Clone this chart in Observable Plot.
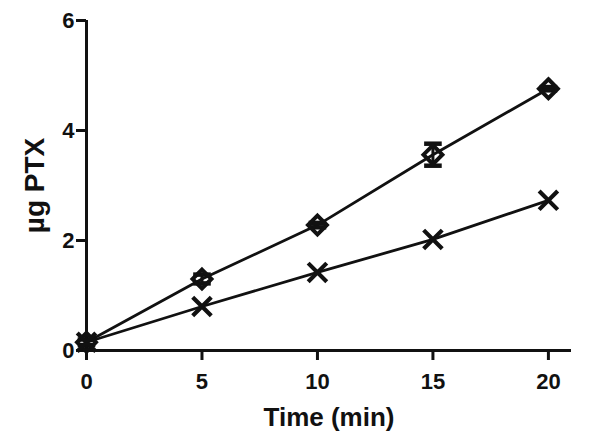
<!DOCTYPE html>
<html>
<head>
<meta charset="utf-8">
<script src="https://cdn.jsdelivr.net/npm/d3@7"></script>
<script src="https://cdn.jsdelivr.net/npm/@observablehq/plot@0.6"></script>
<style>
  html, body { margin: 0; padding: 0; background: #fff; }
  #chart svg { display: block; }
</style>
</head>
<body>
<div id="chart"></div>
<script>
// ---- data ----
const times = [0, 5, 10, 15, 20];
const diamondMean = [0.15, 1.30, 2.28, 3.56, 4.76];
const diamondErr = [0.05, 0.08, 0.04, 0.20, 0.03];
const crossMean = [0.15, 0.80, 1.42, 2.02, 2.73];
const crossErr = [0.05, 0.03, 0.03, 0.03, 0.03];
const xTicks = [0, 5, 10, 15, 20];
const yTicks = [0, 2, 4, 6];

const diamondRows = times.map((t, i) => ({t, v: diamondMean[i], e: diamondErr[i]}));
const crossRows = times.map((t, i) => ({t, v: crossMean[i], e: crossErr[i]}));

// horizontal cap symbol for error bars
const capSymbol = {
  draw(context, size) {
    const r = Math.sqrt(size / Math.PI) * 1.1;
    context.moveTo(-r, 0);
    context.lineTo(r, 0);
  }
};

const font = "'Liberation Sans', Arial, Helvetica, sans-serif";

const chart = Plot.plot({
  width: 602,
  height: 442,
  marginLeft: 86,
  marginRight: 31,
  marginTop: 20,
  marginBottom: 92,
  style: {fontFamily: font, fontWeight: "bold", background: "#fff", color: "#111"},
  x: {domain: [0, 21], axis: null},
  y: {domain: [0, 6], axis: null},
  marks: [
    // axis lines
    Plot.ruleY([0], {x1: 0, x2: 21, stroke: "#111", strokeWidth: 3}),
    Plot.ruleX([0], {y1: 0, y2: 6, stroke: "#111", strokeWidth: 3}),
    // ticks
    Plot.axisX({ticks: xTicks, tickSize: 10, strokeWidth: 3, label: null, tickFormat: () => ""}),
    Plot.axisY({ticks: yTicks, tickSize: 10, strokeWidth: 3, label: null, tickFormat: () => ""}),
    // tick labels
    Plot.text(xTicks, {x: d => d, frameAnchor: "bottom", lineAnchor: "top", dy: 23, fontSize: 22, fontWeight: "bold", fill: "#111", text: d => String(d)}),
    Plot.text(yTicks, {y: d => d, frameAnchor: "left", textAnchor: "end", dx: -12, fontSize: 22, fontWeight: "bold", fill: "#111", text: d => String(d)}),
    // axis titles
    Plot.text(["Time (min)"], {frameAnchor: "bottom", dy: 75, fontSize: 26, fontWeight: "bold", lineAnchor: "bottom", fill: "#111"}),
    Plot.text(["µg PTX"], {frameAnchor: "left", textAnchor: "middle", dx: -51, rotate: -90, fontSize: 28, fontWeight: "bold", fill: "#111"}),
    // lines
    Plot.line(diamondRows, {x: "t", y: "v", stroke: "#111", strokeWidth: 2.8}),
    Plot.line(crossRows, {x: "t", y: "v", stroke: "#111", strokeWidth: 2.8}),
    // error bars
    Plot.ruleX(diamondRows, {x: "t", y1: d => d.v - d.e, y2: d => d.v + d.e, stroke: "#111", strokeWidth: 3}),
    Plot.dot(diamondRows, {x: "t", y: d => d.v + d.e, symbol: capSymbol, r: 8, stroke: "#111", strokeWidth: 4.5}),
    Plot.dot(diamondRows, {x: "t", y: d => d.v - d.e, symbol: capSymbol, r: 8, stroke: "#111", strokeWidth: 4.5}),
    Plot.ruleX(crossRows, {x: "t", y1: d => d.v - d.e, y2: d => d.v + d.e, stroke: "#111", strokeWidth: 3}),
    // markers
    Plot.dot(diamondRows, {x: "t", y: "v", symbol: "diamond2", r: 8.5, stroke: "#111", strokeWidth: 4, fill: "none"}),
    Plot.dot(crossRows, {x: "t", y: "v", symbol: "times", r: 8.5, stroke: "#111", strokeWidth: 4.2})
  ]
});

document.getElementById("chart").appendChild(chart);
</script>
</body>
</html>
